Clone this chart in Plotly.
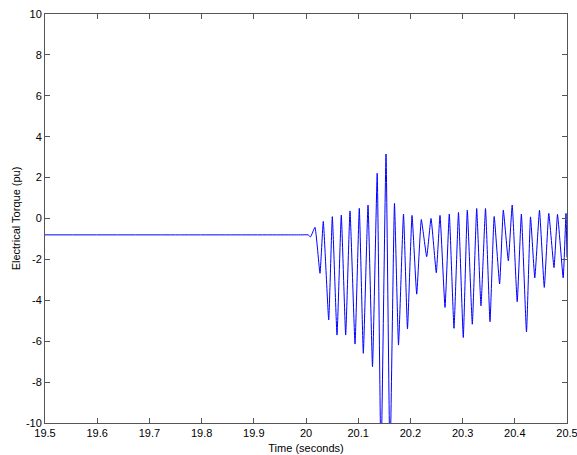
import plotly.graph_objects as go

# Time samples (s) and electrical torque (pu) (extrema)
time_s = [19.5, 19.75, 19.99, 20.004, 20.0086, 20.0172, 20.0268, 20.0331, 20.0435, 20.0504, 20.0594,
          20.0676, 20.0760, 20.0843, 20.0939, 20.1021, 20.1098, 20.1188, 20.1274,
          20.1364, 20.1437, 20.1533, 20.1609, 20.1695, 20.1772, 20.1868, 20.1944,
          20.2031, 20.2121, 20.2209, 20.2312, 20.2395, 20.2496, 20.2567, 20.2663,
          20.2745, 20.2835, 20.2921, 20.3013, 20.3090, 20.3186, 20.3270, 20.3352,
          20.3439, 20.3525, 20.3605, 20.3709, 20.3780, 20.3876, 20.3950, 20.4046,
          20.4126, 20.4224, 20.4301, 20.4383, 20.4473, 20.4565, 20.4651, 20.4751,
          20.4818, 20.4927, 20.4981, 20.5]
torque_pu = [-0.8, -0.8, -0.8, -0.8, -0.9, -0.43, -2.68, -0.14, -4.96, 0.09, -5.70,
             0.17, -5.70, 0.37, -6.14, 0.5, -6.59, 0.66, -7.24,
             2.21, -12.0, 3.15, -12.0, 0.74, -6.19, 0.22, -5.4,
             0.15, -3.7, -0.05, -1.87, 0.0, -2.65, 0.15, -4.35,
             0.22, -5.37, 0.3, -5.82, 0.41, -5.17, 0.49, -4.27,
             0.49, -5.05, 0.1, -3.2, 0.41, -2.07, 0.66, -4.07,
             0.22, -5.55, 0.08, -2.9, 0.4, -3.37, 0.25, -2.4,
             0.2, -2.9, 0.25, -1.9]

x_ticks = [19.5, 19.6, 19.7, 19.8, 19.9, 20.0, 20.1, 20.2, 20.3, 20.4, 20.5]
x_ticktext = ["19.5", "19.6", "19.7", "19.8", "19.9", "20", "20.1", "20.2", "20.3", "20.4", "20.5"]
y_ticks = [10, 8, 6, 4, 2, 0, -2, -4, -6, -8, -10]
y_ticktext = ["10", "8", "6", "4", "2", "0", "-2", "-4", "-6", "-8", "-10"]

fig = go.Figure()
fig.add_trace(go.Scatter(
    x=time_s, y=torque_pu, mode="lines",
    line=dict(color="#0000ff", width=1, shape="spline", smoothing=0.35),
    showlegend=False, hoverinfo="skip",
))

axis_common = dict(
    showgrid=False, zeroline=False, showline=True, mirror="ticks",
    linecolor="#555555", linewidth=1, ticks="inside", ticklen=5,
    tickcolor="#555555", tickwidth=1, automargin=False,
    ticklabeloverflow="allow",
    tickfont=dict(family="Liberation Sans, Arial", size=11, color="#000000"),
)

fig.update_layout(
    width=577, height=455,
    margin=dict(l=45, r=10, t=14, b=32),
    paper_bgcolor="white", plot_bgcolor="white",
    xaxis=dict(range=[19.5, 20.5], tickvals=x_ticks, ticktext=x_ticktext,
               title=dict(text="Time (seconds)", standoff=6,
                          font=dict(family="Liberation Sans, Arial", size=11, color="#000000")),
               **axis_common),
    yaxis=dict(range=[-10, 10], tickvals=y_ticks, ticktext=y_ticktext,
               title=dict(text="Electrical Torque (pu)", standoff=3,
                          font=dict(family="Liberation Sans, Arial", size=11, color="#000000")),
               **axis_common),
)

fig.write_html("out.html")
